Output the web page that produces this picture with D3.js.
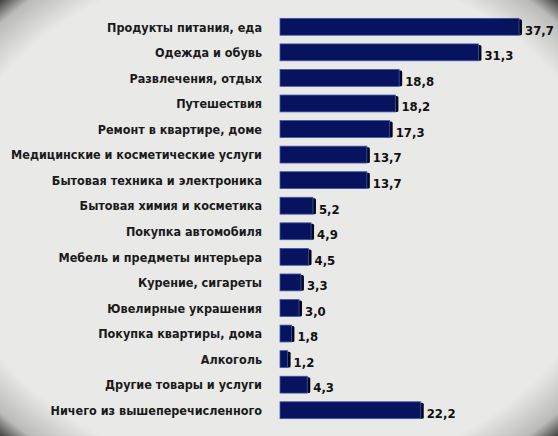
<!DOCTYPE html>
<html>
<head>
<meta charset="utf-8">
<script src="https://cdn.jsdelivr.net/npm/d3@7"></script>
<style>
  body { margin: 0; background: #e8e8e6; }
  svg { display: block; }
</style>
</head>
<body>
<svg id="chart" width="558" height="436"></svg>
<script>
var categories = [
  'Продукты питания, еда',
  'Одежда и обувь',
  'Развлечения, отдых',
  'Путешествия',
  'Ремонт в квартире, доме',
  'Медицинские и косметические услуги',
  'Бытовая техника и электроника',
  'Бытовая химия и косметика',
  'Покупка автомобиля',
  'Мебель и предметы интерьера',
  'Курение, сигареты',
  'Ювелирные украшения',
  'Покупка квартиры, дома',
  'Алкоголь',
  'Другие товары и услуги',
  'Ничего из вышеперечисленного'
];
var values = [37.7, 31.3, 18.8, 18.2, 17.3, 13.7, 13.7, 5.2, 4.9, 4.5, 3.3, 3.0, 1.8, 1.2, 4.3, 22.2];
var valueLabels = ['37,7', '31,3', '18,8', '18,2', '17,3', '13,7', '13,7', '5,2', '4,9', '4,5', '3,3', '3,0', '1,8', '1,2', '4,3', '22,2'];

var svg = d3.select('#chart'),
  margin = {top: 14, right: 30, bottom: 13, left: 280},
  width = +svg.attr('width') - margin.left - margin.right,
  height = +svg.attr('height') - margin.top - margin.bottom;

var data = categories.map(function(c, i) { return {name: c, value: values[i], label: valueLabels[i]}; });

// darkened corners, like the photographed original
var defs = svg.append('defs');
var rg = defs.append('radialGradient').attr('id', 'vig')
  .attr('cx', '50%').attr('cy', '50%').attr('r', '72%');
rg.append('stop').attr('offset', '0.82').attr('stop-color', '#000').attr('stop-opacity', 0);
rg.append('stop').attr('offset', '0.93').attr('stop-color', '#000').attr('stop-opacity', 0.2);
rg.append('stop').attr('offset', '1').attr('stop-color', '#000').attr('stop-opacity', 0.9);

svg.append('rect').attr('width', 558).attr('height', 436).attr('fill', '#e9e9e7');

var x = d3.scaleLinear().domain([0, 37.7]).range([0, 239]),
  y = d3.scaleBand().domain(categories).range([0, height]).paddingInner(0.34).paddingOuter(0.17);

var g = svg.append('g')
  .attr('transform', 'translate(' + margin.left + ',' + margin.top + ')');

var yAxis = g.append('g')
  .attr('class', 'axis axis--y')
  .attr('transform', 'translate(-18,0)')
  .call(d3.axisLeft(y).tickSize(0).tickPadding(0));
yAxis.select('.domain').remove();
yAxis.selectAll('text')
  .attr('font-family', 'DejaVu Sans Condensed, DejaVu Sans')
  .attr('font-size', 12.5)
  .attr('font-weight', 'bold')
  .attr('fill', '#1a1a1a')
  .attr('dy', '0.38em');

var bars = g.selectAll('.bar')
  .data(data)
  .enter().append('g')
  .attr('class', 'bar');

// right shaded face
bars.append('rect')
  .attr('x', function(d) { return x(d.value) - 1; })
  .attr('y', function(d) { return y(d.name) + 1; })
  .attr('width', 4)
  .attr('height', y.bandwidth() - 1)
  .attr('rx', 1.5)
  .attr('fill', '#02061f');

// front face
bars.append('rect')
  .attr('x', 0)
  .attr('y', function(d) { return y(d.name); })
  .attr('width', function(d) { return x(d.value); })
  .attr('height', y.bandwidth())
  .attr('fill', '#07135f')
  .attr('stroke', '#3d5aa8')
  .attr('stroke-width', 0.8);

bars.append('text')
  .attr('x', function(d) { return x(d.value) + 6; })
  .attr('y', function(d) { return y(d.name) + y.bandwidth() / 2; })
  .attr('dy', '0.6em')
  .attr('font-family', 'DejaVu Sans Condensed, DejaVu Sans')
  .attr('font-size', 13)
  .attr('font-weight', 'bold')
  .attr('fill', '#111')
  .text(function(d) { return d.label; });

svg.append('rect').attr('width', 558).attr('height', 436).attr('fill', 'url(#vig)')
  .attr('pointer-events', 'none');
</script>
</body>
</html>
